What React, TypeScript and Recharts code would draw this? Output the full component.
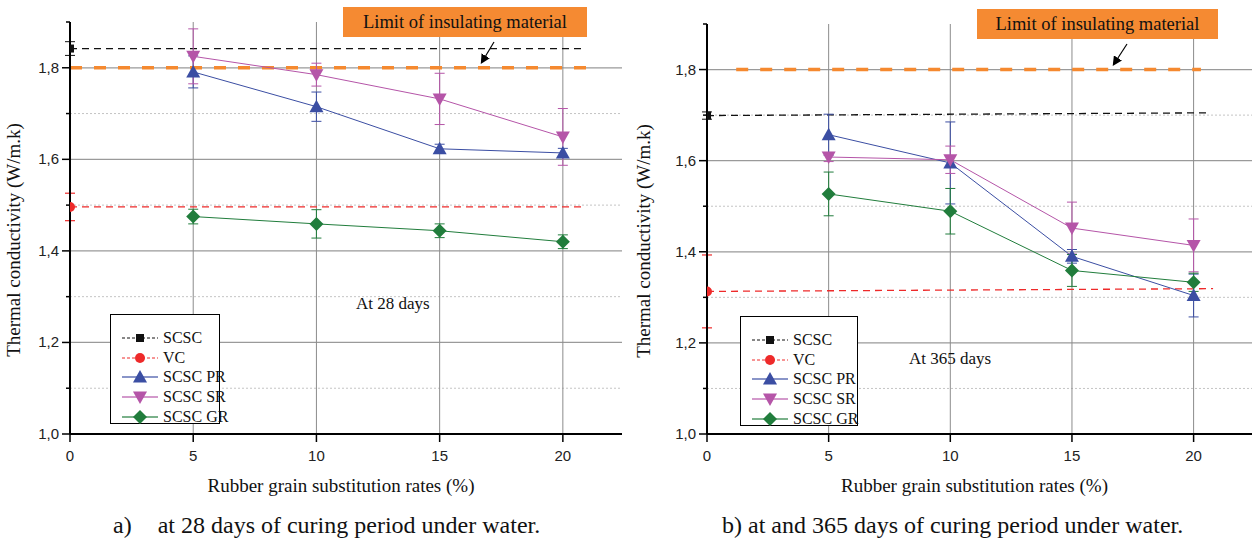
import React from "react";
import { LineChart, Line, XAxis, YAxis, ReferenceLine, ErrorBar, Legend, Label } from "recharts";

// shared axes
const xTicks = [0, 5, 10, 15, 20];
const yMajor = [1.0, 1.2, 1.4, 1.6, 1.8];
const yMinor = [1.1, 1.3, 1.5, 1.7, 1.9];
const rates = [5, 10, 15, 20];
const limitY = 1.8;

// 28 days
const guideX28 = [0, 20.8];
const scsc28 = [1.842, 1.842];
const scsc28Err = [0.015, 0];
const vc28 = [1.496, 1.496];
const vc28Err = [0.03, 0];
const pr28 = [1.791, 1.715, 1.623, 1.614];
const pr28Err = [0.035, 0.032, 0.01, 0.01];
const sr28 = [1.825, 1.785, 1.732, 1.649];
const sr28Err = [0.06, 0.025, 0.056, 0.062];
const gr28 = [1.475, 1.459, 1.444, 1.42];
const gr28Err = [0.016, 0.031, 0.015, 0.015];
const limitX28 = [0, 21.1];

// 365 days
const guideX365 = [0, 20.6];
const scsc365 = [1.699, 1.705];
const scsc365Err = [0.008, 0];
const vcX365 = [0, 20.8];
const vc365 = [1.313, 1.319];
const vc365Err = [0.08, 0];
const pr365 = [1.657, 1.595, 1.39, 1.304];
const pr365Err = [0.045, 0.09, 0.015, 0.047];
const sr365 = [1.608, 1.602, 1.452, 1.414];
const sr365Err = [0.01, 0.03, 0.057, 0.058];
const gr365 = [1.527, 1.489, 1.359, 1.333];
const gr365Err = [0.048, 0.05, 0.035, 0.02];
const limitX365 = [1.2, 20.3];

const serif = "'Liberation Serif', 'DejaVu Serif', serif";
const sans = "'Liberation Sans', Arial, sans-serif";

const C = {
  scsc: "#111111",
  vc: "#ee2a2a",
  pr: "#3b4ea3",
  sr: "#b555a8",
  gr: "#217d3c",
  limit: "#f5892f",
};

type Shape = "square" | "circle" | "up" | "down" | "diamond";

const toPts = (xs: number[], ys: number[], errs: number[]) =>
  xs.map((x, i) => ({ x, y: ys[i], err: errs[i] || undefined }));

function Marker({ shape, cx, cy, color }: { shape: Shape; cx: number; cy: number; color: string }) {
  if (cx == null || cy == null || isNaN(cx) || isNaN(cy)) return <g />;
  switch (shape) {
    case "square":
      return <rect x={cx - 4} y={cy - 4} width={8} height={8} fill={color} />;
    case "circle":
      return <circle cx={cx} cy={cy} r={5} fill={color} />;
    case "up":
      return <polygon points={`${cx},${cy - 7} ${cx + 7},${cy + 5.5} ${cx - 7},${cy + 5.5}`} fill={color} />;
    case "down":
      return <polygon points={`${cx},${cy + 7} ${cx + 7},${cy - 5.5} ${cx - 7},${cy - 5.5}`} fill={color} />;
    default:
      return <polygon points={`${cx},${cy - 7} ${cx + 7},${cy} ${cx},${cy + 7} ${cx - 7},${cy}`} fill={color} />;
  }
}

const legendItems: { name: string; color: string; shape: Shape; dash?: string }[] = [
  { name: "SCSC", color: C.scsc, shape: "square", dash: "3 2" },
  { name: "VC", color: C.vc, shape: "circle", dash: "3 2" },
  { name: "SCSC PR", color: C.pr, shape: "up" },
  { name: "SCSC SR", color: C.sr, shape: "down" },
  { name: "SCSC GR", color: C.gr, shape: "diamond" },
];

const LegendBox = ({ w }: { w: number }) => (
  <div
    style={{
      border: "1px solid #000",
      background: "#fff",
      width: w,
      height: 110,
      boxSizing: "border-box",
      padding: "13px 0 0 11px",
      fontFamily: serif,
      fontSize: 16,
      color: "#111",
    }}
  >
    {legendItems.map((it) => (
      <div key={it.name} style={{ display: "flex", alignItems: "center", height: 19.7 }}>
        <svg width={36} height={16} style={{ flex: "none" }}>
          <line
            x1={0}
            x2={36}
            y1={8}
            y2={8}
            stroke={it.color}
            strokeWidth={it.dash ? 1 : 2}
            strokeOpacity={it.dash ? 1 : 0.6}
            strokeDasharray={it.dash}
          />
          <Marker shape={it.shape} cx={18} cy={8} color={it.color} />
        </svg>
        <span style={{ marginLeft: 5, whiteSpace: "nowrap" }}>{it.name}</span>
      </div>
    ))}
  </div>
);

const YTick = (props: any) => {
  const { x, y, payload } = props;
  const major = yMajor.some((v) => Math.abs(v - payload.value) < 1e-6);
  return (
    <g>
      <line x1={x} x2={x - (major ? 8 : 4)} y1={y} y2={y} stroke="#000" strokeWidth={1.5} />
      {major && (
        <text x={x - 11} y={y + 5} textAnchor="end" fontFamily={sans} fontSize={15} fill="#222">
          {payload.value.toFixed(1).replace(".", ",")}
        </text>
      )}
    </g>
  );
};

const XTick = (props: any) => {
  const { x, y, payload } = props;
  return (
    <g>
      <line x1={x} x2={x} y1={y} y2={y + 8} stroke="#000" strokeWidth={1.5} />
      <text x={x} y={y + 27} textAnchor="middle" fontFamily={sans} fontSize={15} fill="#222">
        {payload.value}
      </text>
    </g>
  );
};

interface PanelCfg {
  left: number;
  width: number;
  top: number;
  yw: number;
  legendLeft: number;
  legendTop: number;
  legendW: number;
  scsc: { x: number; y: number; err?: number }[];
  vc: { x: number; y: number; err?: number }[];
  pr: { x: number; y: number; err?: number }[];
  sr: { x: number; y: number; err?: number }[];
  gr: { x: number; y: number; err?: number }[];
  limitX: number[];
  box: { l: number; t: number; w: number };
  arrow: number[];
  note: { text: string; x: number; y: number };
  caption: { parts: string[]; x: number; gap: number };
}

function Panel({ p }: { p: PanelCfg }) {
  const guideDot = (shape: Shape, color: string) => (d: any) =>
    d.index === 0 ? <Marker key={d.index} shape={shape} cx={d.cx} cy={d.cy} color={color} /> : <g key={d.index} />;
  const allDot = (shape: Shape, color: string) => (d: any) =>
    <Marker key={d.index} shape={shape} cx={d.cx} cy={d.cy} color={color} />;
  const series: [string, any[], string, Shape][] = [
    ["SCSC PR", p.pr, C.pr, "up"],
    ["SCSC SR", p.sr, C.sr, "down"],
    ["SCSC GR", p.gr, C.gr, "diamond"],
  ];
  return (
    <div style={{ position: "absolute", left: p.left, top: 0, width: p.width, height: 542 }}>
      <LineChart width={p.width} height={500} margin={{ top: p.top, right: 0, bottom: 0, left: 0 }}>
        <XAxis
          type="number"
          dataKey="x"
          domain={[0, 22.4]}
          ticks={xTicks}
          allowDataOverflow
          tickSize={0}
          tickMargin={0}
          tick={<XTick />}
          axisLine={{ stroke: "#000", strokeWidth: 2 }}
          height={66}
        >
          <Label
            content={({ viewBox }: any) => (
              <text
                x={viewBox.x + viewBox.width / 2 - 5}
                y={viewBox.y + 58}
                textAnchor="middle"
                fontFamily={serif}
                fontSize={19}
                fill="#111"
              >
                Rubber grain substitution rates (%)
              </text>
            )}
          />
        </XAxis>
        <YAxis
          type="number"
          domain={[1, 1.9]}
          ticks={[1.0, 1.1, 1.2, 1.3, 1.4, 1.5, 1.6, 1.7, 1.8, 1.9]}
          allowDataOverflow
          tickSize={0}
          tickMargin={0}
          tick={<YTick />}
          axisLine={{ stroke: "#000", strokeWidth: 2 }}
          width={p.yw}
        >
          <Label
            content={({ viewBox }: any) => {
              const cx = viewBox.x + 20;
              const cy = viewBox.y + viewBox.height / 2 + 12;
              return (
                <text
                  x={cx}
                  y={cy}
                  transform={`rotate(-90, ${cx}, ${cy})`}
                  textAnchor="middle"
                  fontFamily={serif}
                  fontSize={19}
                  fill="#111"
                >
                  Thermal conductivity (W/m.k)
                </text>
              );
            }}
          />
        </YAxis>
        {yMinor.slice(0, 4).map((v) => (
          <ReferenceLine key={"mi" + v} y={v} stroke="#c4c4c4" strokeDasharray="2 2" />
        ))}
        {yMajor.slice(1).map((v) => (
          <ReferenceLine key={"ma" + v} y={v} stroke="#9a9a9a" strokeWidth={1.3} />
        ))}
        {rates.map((v) => (
          <ReferenceLine key={"vx" + v} x={v} stroke="#8c8c8c" />
        ))}
        <ReferenceLine
          segment={[
            { x: p.limitX[0], y: limitY },
            { x: p.limitX[1], y: limitY },
          ]}
          stroke={C.limit}
          strokeWidth={3.5}
          strokeDasharray="12 12"
        />
        <Line
          data={p.scsc}
          dataKey="y"
          name="SCSC"
          stroke={C.scsc}
          strokeWidth={1.3}
          strokeDasharray="7 5"
          dot={guideDot("square", C.scsc)}
          isAnimationActive={false}
          legendType="none"
        >
          <ErrorBar dataKey="err" width={5} stroke={C.scsc} strokeWidth={1} direction="y" />
        </Line>
        <Line
          data={p.vc}
          dataKey="y"
          name="VC"
          stroke={C.vc}
          strokeWidth={1.3}
          strokeDasharray="7 5"
          dot={guideDot("circle", C.vc)}
          isAnimationActive={false}
          legendType="none"
        >
          <ErrorBar dataKey="err" width={5} stroke={C.vc} strokeWidth={1.2} direction="y" />
        </Line>
        {series.map(([name, data, color, shape]) => (
          <Line
            key={name}
            data={data}
            dataKey="y"
            name={name}
            stroke={color}
            strokeWidth={1}
            dot={allDot(shape, color)}
            isAnimationActive={false}
          >
            <ErrorBar dataKey="err" width={5} stroke={color} strokeWidth={1} direction="y" />
          </Line>
        ))}
        <Legend
          layout="vertical"
          align="center"
          verticalAlign="middle"
          content={() => <LegendBox w={p.legendW} />}
          wrapperStyle={{ left: p.legendLeft, top: p.legendTop, width: p.legendW, height: 110 }}
        />
      </LineChart>
      <div
        style={{
          position: "absolute",
          left: p.box.l,
          top: p.box.t,
          width: p.box.w,
          height: 30,
          background: "#f58a32",
          fontFamily: serif,
          fontSize: 18.5,
          lineHeight: "30px",
          textAlign: "center",
          color: "#111",
        }}
      >
        Limit of insulating material
      </div>
      <svg width={p.width} height={542} style={{ position: "absolute", left: 0, top: 0, pointerEvents: "none" }}>
        <defs>
          <marker id={"ah" + p.left} markerWidth="8" markerHeight="8" refX="6" refY="4" orient="auto">
            <path d="M0,0 L8,4 L0,8 Z" fill="#000" />
          </marker>
        </defs>
        <line
          x1={p.arrow[0]}
          y1={p.arrow[1]}
          x2={p.arrow[2]}
          y2={p.arrow[3]}
          stroke="#000"
          strokeWidth={1.2}
          markerEnd={`url(#ah${p.left})`}
        />
        <text x={p.note.x} y={p.note.y} fontFamily={serif} fontSize={17} fill="#111">
          {p.note.text}
        </text>
      </svg>
      <div
        style={{
          position: "absolute",
          left: p.caption.x,
          top: 512,
          fontFamily: serif,
          fontSize: 24,
          color: "#111",
          whiteSpace: "nowrap",
        }}
      >
        {p.caption.parts[0]}
        <span style={{ marginLeft: p.caption.gap }}>{p.caption.parts[1]}</span>
      </div>
    </div>
  );
}

const panel28: PanelCfg = {
  left: 0,
  width: 622,
  top: 22,
  yw: 70,
  legendLeft: 110,
  legendTop: 314,
  legendW: 110,
  scsc: toPts(guideX28, scsc28, scsc28Err),
  vc: toPts(guideX28, vc28, vc28Err),
  pr: toPts(rates, pr28, pr28Err),
  sr: toPts(rates, sr28, sr28Err),
  gr: toPts(rates, gr28, gr28Err),
  limitX: limitX28,
  box: { l: 343, t: 7, w: 244 },
  arrow: [494, 42, 482, 62],
  note: { text: "At 28 days", x: 356, y: 309 },
  caption: { parts: ["a)", "at 28 days of curing period under water."], x: 113, gap: 26 },
};

const panel365: PanelCfg = {
  left: 630,
  width: 622,
  top: 24,
  yw: 77,
  legendLeft: 110,
  legendTop: 316,
  legendW: 118,
  scsc: toPts(guideX365, scsc365, scsc365Err),
  vc: toPts(vcX365, vc365, vc365Err),
  pr: toPts(rates, pr365, pr365Err),
  sr: toPts(rates, sr365, sr365Err),
  gr: toPts(rates, gr365, gr365Err),
  limitX: limitX365,
  box: { l: 347, t: 9, w: 241 },
  arrow: [497, 44, 484, 64],
  note: { text: "At 365 days", x: 279, y: 364 },
  caption: { parts: ["b)", "at and 365 days of curing period under water."], x: 92, gap: 6 },
};

export default function App() {
  return (
    <div style={{ position: "absolute", left: 0, top: 0, width: 1252, height: 542, background: "#fff", overflow: "hidden" }}>
      <Panel p={panel28} />
      <Panel p={panel365} />
    </div>
  );
}
